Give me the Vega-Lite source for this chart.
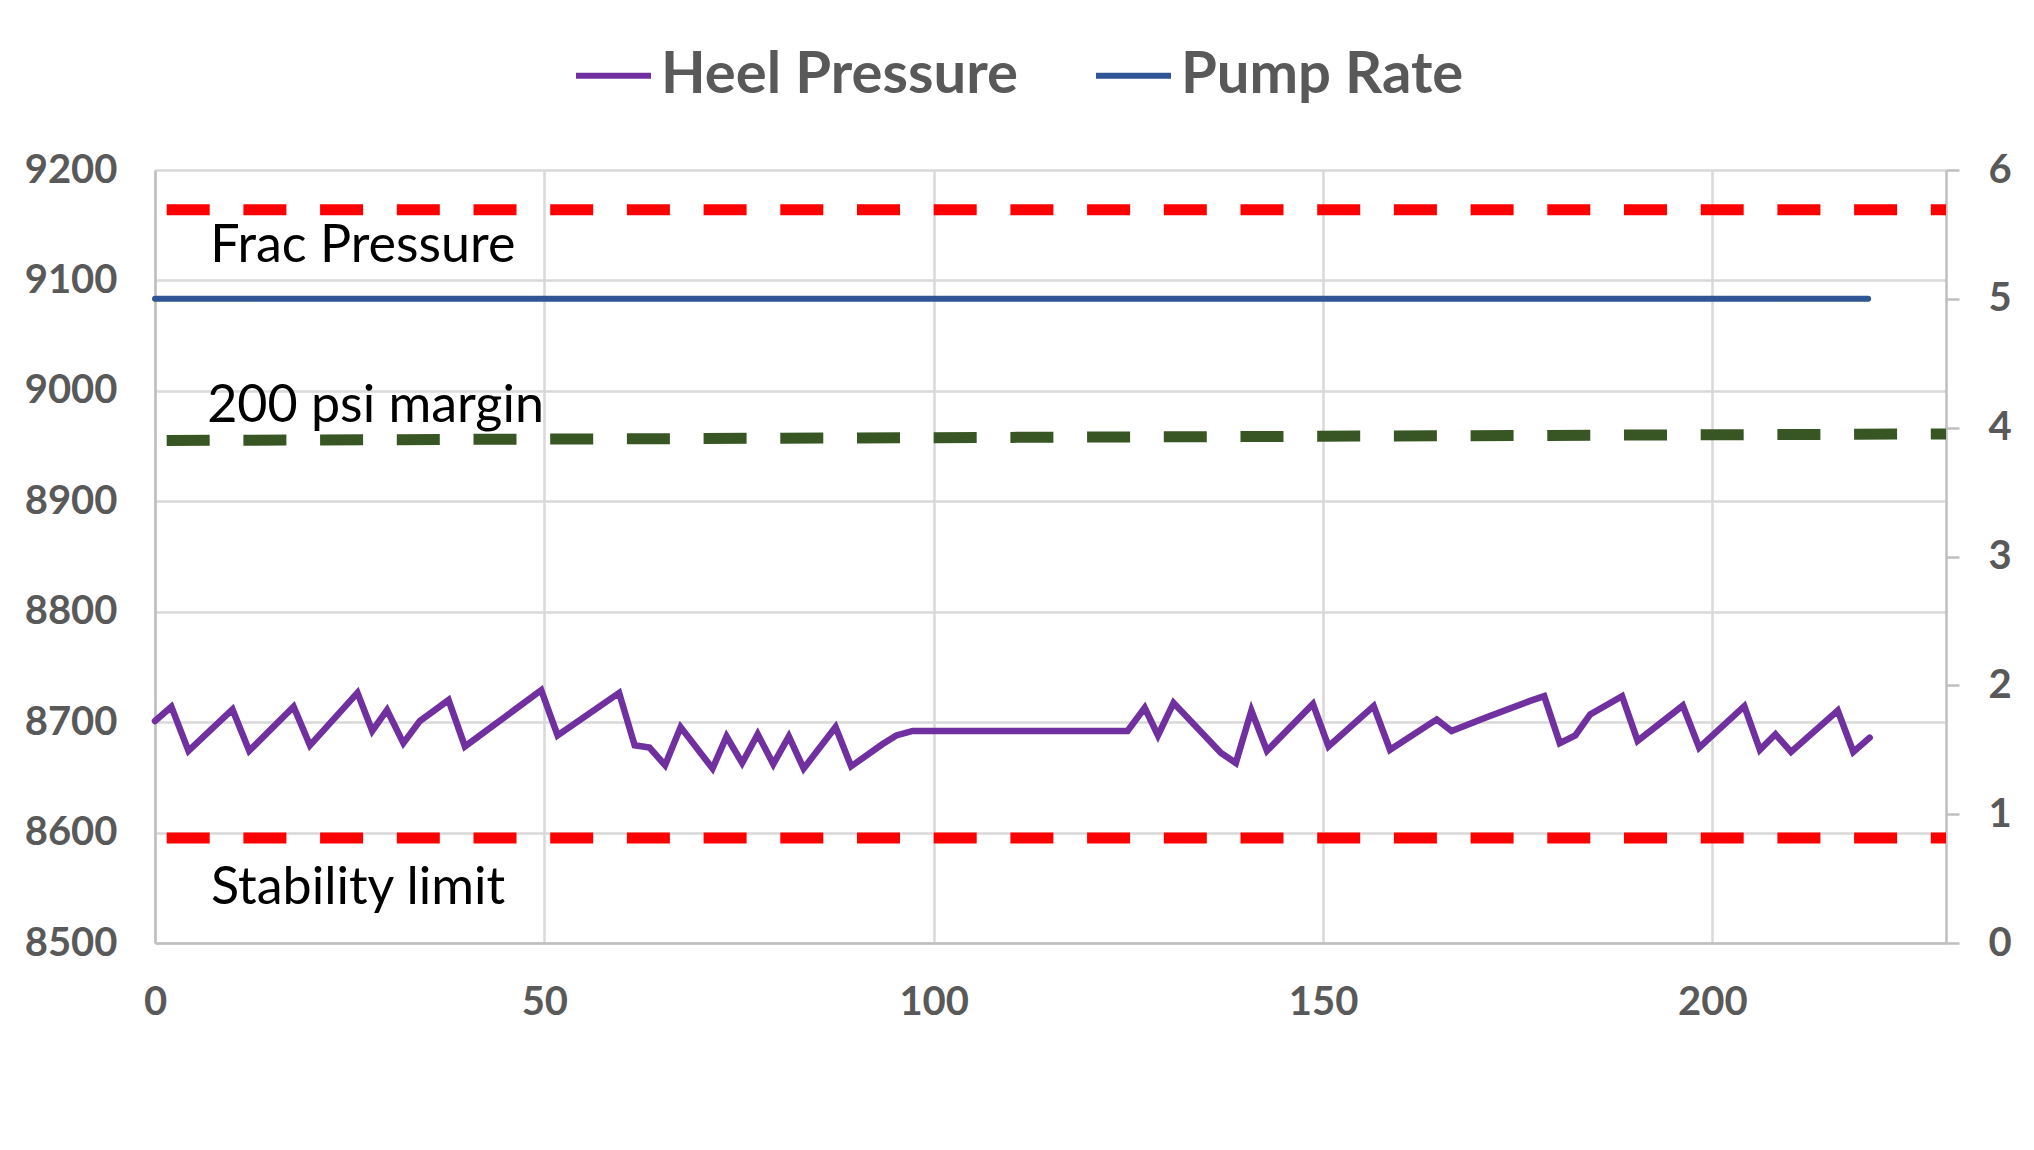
{
  "$schema": "https://vega.github.io/schema/vega-lite/v6.json",
  "autosize": {"type": "none"},
  "padding": {"left": 155, "top": 170, "right": 88, "bottom": 207},
  "width": 1791,
  "height": 773,
  "background": "white",
  "datasets": {
    "heel": [
      {"t": 0, "p": 8701}, {"t": 2.1, "p": 8714}, {"t": 4.3, "p": 8674},
      {"t": 9.95, "p": 8711.5}, {"t": 12.1, "p": 8674}, {"t": 17.8, "p": 8714},
      {"t": 19.9, "p": 8679}, {"t": 26, "p": 8726.5}, {"t": 27.9, "p": 8692},
      {"t": 29.8, "p": 8711}, {"t": 31.9, "p": 8681}, {"t": 34, "p": 8701},
      {"t": 37.7, "p": 8720}, {"t": 39.8, "p": 8678}, {"t": 49.6, "p": 8729},
      {"t": 51.7, "p": 8688}, {"t": 59.6, "p": 8726.5}, {"t": 61.6, "p": 8679},
      {"t": 63.5, "p": 8677}, {"t": 65.5, "p": 8661}, {"t": 67.5, "p": 8695.5},
      {"t": 71.6, "p": 8658}, {"t": 73.4, "p": 8687}, {"t": 75.4, "p": 8663},
      {"t": 77.4, "p": 8689}, {"t": 79.4, "p": 8662}, {"t": 81.4, "p": 8687},
      {"t": 83.3, "p": 8658}, {"t": 87.4, "p": 8695.5}, {"t": 89.4, "p": 8660},
      {"t": 93.4, "p": 8680}, {"t": 95.2, "p": 8688}, {"t": 97.3, "p": 8692},
      {"t": 124.9, "p": 8692}, {"t": 127.1, "p": 8713}, {"t": 128.8, "p": 8688},
      {"t": 130.8, "p": 8717.5}, {"t": 136.9, "p": 8672}, {"t": 138.8, "p": 8663},
      {"t": 140.8, "p": 8710.5}, {"t": 142.8, "p": 8674}, {"t": 148.7, "p": 8716.5},
      {"t": 150.7, "p": 8678}, {"t": 156.5, "p": 8714.5}, {"t": 158.6, "p": 8675},
      {"t": 164.6, "p": 8702.5}, {"t": 166.5, "p": 8692}, {"t": 171, "p": 8704.5},
      {"t": 176.5, "p": 8719}, {"t": 178.4, "p": 8723.5}, {"t": 180.4, "p": 8681},
      {"t": 182.4, "p": 8688}, {"t": 184.3, "p": 8707}, {"t": 188.4, "p": 8723.5},
      {"t": 190.4, "p": 8683}, {"t": 196.2, "p": 8715}, {"t": 198.3, "p": 8677},
      {"t": 204.1, "p": 8714.5}, {"t": 206.1, "p": 8675}, {"t": 208.1, "p": 8689},
      {"t": 210.1, "p": 8673}, {"t": 216.1, "p": 8710.5}, {"t": 218.1, "p": 8673},
      {"t": 220.2, "p": 8686}
    ],
    "pump": [
      {"t": 0, "rate": 5}, {"t": 220, "rate": 5}
    ],
    "limits": [
      {"name": "frac", "t": 0, "p": 9164}, {"name": "frac", "t": 230, "p": 9164},
      {"name": "stability", "t": 0, "p": 8595}, {"name": "stability", "t": 230, "p": 8595},
      {"name": "margin", "t": 0, "p": 8955}, {"name": "margin", "t": 230, "p": 8961}
    ],
    "labels": [
      {"text": "Frac Pressure", "t": 7.1, "p": 9131},
      {"text": "200 psi margin", "t": 6.7, "p": 8986},
      {"text": "Stability limit", "t": 7.2, "p": 8550}
    ]
  },
  "layer": [
    {
      "layer": [
        {
          "data": {"name": "limits"},
          "transform": [{"filter": "datum.name != 'margin'"}],
          "mark": {"type": "line", "color": "#FF0000", "strokeWidth": 11, "strokeDash": [43, 33.7], "strokeDashOffset": 65, "strokeCap": "butt"},
          "encoding": {
            "x": {"field": "t", "type": "quantitative", "scale": {"domain": [0, 230], "nice": false, "zero": false},
              "axis": {"values": [0, 50, 100, 150, 200], "title": null, "grid": true, "ticks": false, "labelPadding": 39, "labelFlush": false, "orient": "bottom"}},
            "y": {"field": "p", "type": "quantitative", "scale": {"domain": [8500, 9200], "nice": false, "zero": false},
              "axis": {"values": [8500, 8600, 8700, 8800, 8900, 9000, 9100, 9200], "format": "d", "title": null, "grid": true, "ticks": false, "labelPadding": 38, "orient": "left"}},
            "detail": {"field": "name"}
          }
        },
        {
          "data": {"name": "limits"},
          "transform": [{"filter": "datum.name == 'margin'"}],
          "mark": {"type": "line", "color": "#375623", "strokeWidth": 11, "strokeDash": [43, 33.7], "strokeDashOffset": 65, "strokeCap": "butt"},
          "encoding": {
            "x": {"field": "t", "type": "quantitative"},
            "y": {"field": "p", "type": "quantitative"}
          }
        },
        {
          "data": {"name": "heel"},
          "mark": {"type": "line", "strokeWidth": 6.5, "strokeCap": "round"},
          "encoding": {
            "x": {"field": "t", "type": "quantitative"},
            "y": {"field": "p", "type": "quantitative"},
            "color": {"datum": "Heel Pressure", "type": "nominal"}
          }
        },
        {
          "data": {"name": "labels"},
          "mark": {"type": "text", "align": "left", "baseline": "middle", "font": "Lato", "fontSize": 52, "color": "black"},
          "encoding": {
            "x": {"field": "t", "type": "quantitative"},
            "y": {"field": "p", "type": "quantitative"},
            "text": {"field": "text"}
          }
        }
      ]
    },
    {
      "data": {"name": "pump"},
      "mark": {"type": "line", "strokeWidth": 6, "strokeCap": "round"},
      "encoding": {
        "x": {"field": "t", "type": "quantitative"},
        "y": {"field": "rate", "type": "quantitative", "scale": {"domain": [0, 6], "nice": false},
          "axis": {"orient": "right", "values": [0, 1, 2, 3, 4, 5, 6], "title": null, "grid": false, "ticks": true, "tickSize": 13, "labelPadding": 29}},
        "color": {"datum": "Pump Rate", "type": "nominal"}
      }
    }
  ],
  "resolve": {"scale": {"y": "independent"}},
  "config": {
    "view": {"stroke": null},
    "range": {"category": ["#7030A0", "#2F5597"]},
    "axis": {
      "labelFont": "Lato",
      "labelFontSize": 40,
      "labelFontWeight": "bold",
      "labelColor": "#595959",
      "gridColor": "#D9D9D9",
      "gridWidth": 2.5,
      "domainColor": "#BFBFBF",
      "domainWidth": 2.5,
      "tickColor": "#BFBFBF",
      "tickWidth": 2.5,
      "labelOverlap": false
    },
    "legend": {
      "orient": "none",
      "legendX": 418,
      "legendY": -135,
      "direction": "horizontal",
      "title": null,
      "symbolType": "stroke",
      "symbolSize": 5625,
      "symbolStrokeWidth": 6,
      "labelFont": "Lato",
      "labelFontSize": 58,
      "labelFontWeight": "bold",
      "labelColor": "#595959",
      "labelOffset": 7,
      "columnPadding": 66,
      "labelLimit": 0
    }
  }
}
